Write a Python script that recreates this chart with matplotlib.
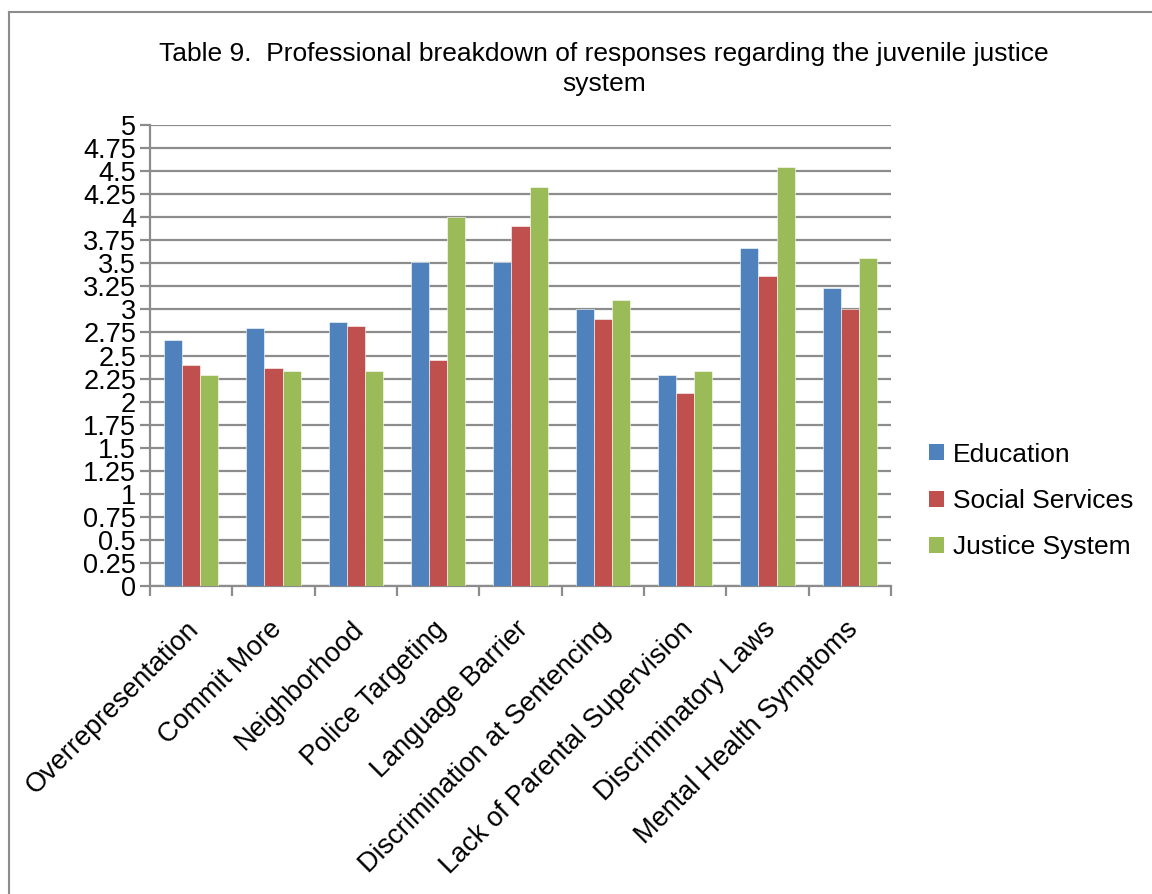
import numpy as np
import matplotlib.pyplot as plt
import matplotlib.transforms as mtransforms
from matplotlib.lines import Line2D
from matplotlib.patches import Patch

plt.rcParams['font.family'] = ['Liberation Sans', 'DejaVu Sans']

categories = ["Overrepresentation", "Commit More", "Neighborhood", "Police Targeting",
              "Language Barrier", "Discrimination at Sentencing",
              "Lack of Parental Supervision", "Discriminatory Laws", "Mental Health Symptoms"]
education = [2.67, 2.80, 2.86, 3.51, 3.51, 3.00, 2.29, 3.67, 3.23]
social_services = [2.40, 2.36, 2.82, 2.45, 3.91, 2.90, 2.09, 3.36, 3.00]
justice_system = [2.29, 2.33, 2.33, 4.00, 4.33, 3.10, 2.33, 4.55, 3.56]

series = [("Education", education, "#4F81BD"),
          ("Social Services", social_services, "#C0504D"),
          ("Justice System", justice_system, "#9BBB59")]

W, H = 1152, 894
fig = plt.figure(figsize=(W / 100, H / 100), dpi=100)
ax = fig.add_axes([150 / W, 1 - 585.7 / H, (891 - 150) / W, (585.7 - 125.3) / H])

x = np.arange(len(categories))
bw = 0.22
for i, (name, vals, col) in enumerate(series):
    ax.bar(x + (i - 1) * bw, vals, width=bw, color=col, edgecolor="white",
           linewidth=0.4, zorder=3)

ax.set_xlim(-0.5, len(categories) - 0.5)
ax.set_ylim(0, 5)
yt = np.arange(0, 5.01, 0.25)
ax.set_yticks(yt)
ax.set_yticklabels([("%g" % v) for v in yt], fontsize=19.5)
ax.yaxis.grid(True, color="#8c8c8c", linewidth=1.6, zorder=0)

ax.set_xticks(np.arange(-0.5, len(categories), 1))
ax.set_xticklabels([])
ax.set_xticks(x, minor=True)
ax.set_xticklabels(categories, minor=True, rotation=45, ha="right",
                   rotation_mode="anchor", fontsize=19.5)
ax.tick_params(axis="x", which="minor", length=0, pad=22)
ax.tick_params(axis="x", which="major", length=7, width=1.6, color="#8c8c8c")
ax.tick_params(axis="y", length=7, width=1.6, color="#8c8c8c", pad=3)
shift = mtransforms.ScaledTranslation(-5 / 100, 0, fig.dpi_scale_trans)
for lbl in ax.get_xticklabels(minor=True):
    lbl.set_transform(lbl.get_transform() + shift)

for s in ["top", "right"]:
    ax.spines[s].set_visible(False)
for s in ["left", "bottom"]:
    ax.spines[s].set_color("#8c8c8c")
    ax.spines[s].set_linewidth(1.6)

fig.text(604 / W, 1 - 69 / H,
         "Table 9.  Professional breakdown of responses regarding the juvenile justice\nsystem",
         ha="center", va="center", fontsize=19, linespacing=1.3)

handles = [Patch(facecolor=c, edgecolor="none") for _, _, c in series]
fig.legend(handles, [n for n, _, _ in series], loc="center left",
           bbox_to_anchor=(929 / W, 1 - 501 / H), frameon=False, fontsize=19,
           handlelength=0.55, handleheight=0.55, handletextpad=0.35, labelspacing=0.85,
           borderpad=0, borderaxespad=0)

# outer frame of the chart area
fig.add_artist(Line2D([8.5 / W, 8.5 / W], [0, 1 - 12 / H], transform=fig.transFigure,
                      color="#8c8c8c", linewidth=1.5))
fig.add_artist(Line2D([8.5 / W, 1], [1 - 12 / H, 1 - 12 / H], transform=fig.transFigure,
                      color="#8c8c8c", linewidth=1.5))

fig.savefig("out.png", dpi=100)
